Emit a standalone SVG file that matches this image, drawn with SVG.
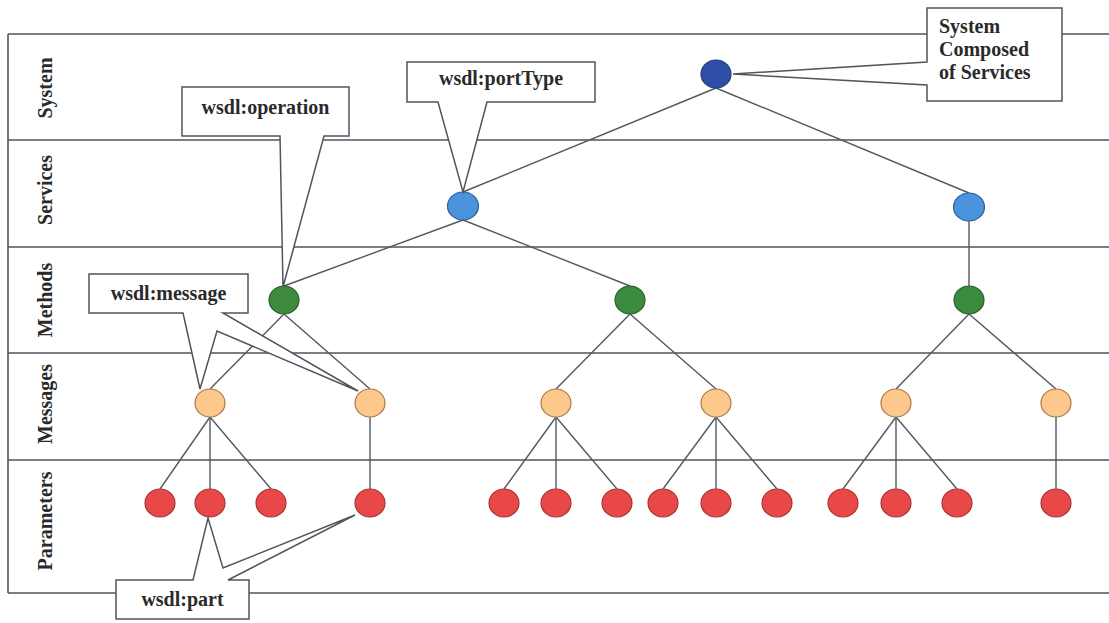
<svg xmlns="http://www.w3.org/2000/svg" width="1109" height="623" viewBox="0 0 1109 623">
  <style>
    .frame { stroke: #50545c; stroke-width: 1.6; fill: none; }
    .edge { stroke: #55585e; stroke-width: 1.4; fill: none; }
    .lane { font-family: "Liberation Serif", "Times New Roman", serif; font-weight: bold; font-size: 20px; fill: #2a2a2a; text-anchor: middle; }
    .callout { fill: #ffffff; stroke: #50545c; stroke-width: 1.5; stroke-linejoin: miter; }
    .ctext { font-family: "Liberation Serif", "Times New Roman", serif; font-weight: bold; font-size: 20px; fill: #2a2a2a; }
    .sys { fill: #2f4fa6; stroke: #233a7a; stroke-width: 1.2; }
    .svc { fill: #4c93de; stroke: #2f5f9a; stroke-width: 1.2; }
    .mth { fill: #3b8a3e; stroke: #2a5f2c; stroke-width: 1.2; }
    .msg { fill: #fdc88c; stroke: #a8784a; stroke-width: 1.2; }
    .prm { fill: #e84848; stroke: #a83434; stroke-width: 1.2; }
  </style>

  <rect width="1109" height="623" fill="#ffffff"/>

  <!-- swim lanes -->
  <g id="lanes">
    <path class="frame" d="M8 34 H1109 M8 140 H1109 M8 247 H1109 M8 353 H1109 M8 460 H1109 M8 593 H1109 M8 34 V593"/>
    <text class="lane" transform="translate(52 88) rotate(-90)">System</text>
    <text class="lane" transform="translate(52 190) rotate(-90)">Services</text>
    <text class="lane" transform="translate(52 300) rotate(-90)">Methods</text>
    <text class="lane" transform="translate(52 404) rotate(-90)">Messages</text>
    <text class="lane" transform="translate(52 521) rotate(-90)">Parameters</text>
  </g>

  <!-- tree connectors: parent bottom to child top -->
  <g id="connectors" class="edge">
    <line x1="716" y1="88" x2="463" y2="192"/>
    <line x1="716" y1="88" x2="969" y2="193"/>
    <line x1="463" y1="220" x2="284" y2="286"/>
    <line x1="463" y1="220" x2="630" y2="286"/>
    <line x1="969" y1="221" x2="969" y2="286"/>
    <line x1="284" y1="314" x2="210" y2="389"/>
    <line x1="284" y1="314" x2="370" y2="389"/>
    <line x1="630" y1="314" x2="556" y2="389"/>
    <line x1="630" y1="314" x2="716" y2="389"/>
    <line x1="969" y1="314" x2="896" y2="389"/>
    <line x1="969" y1="314" x2="1056" y2="389"/>
    <line x1="210" y1="417" x2="160" y2="489"/>
    <line x1="210" y1="417" x2="210" y2="489"/>
    <line x1="210" y1="417" x2="271" y2="489"/>
    <line x1="370" y1="417" x2="370" y2="489"/>
    <line x1="556" y1="417" x2="504" y2="489"/>
    <line x1="556" y1="417" x2="556" y2="489"/>
    <line x1="556" y1="417" x2="617" y2="489"/>
    <line x1="716" y1="417" x2="663" y2="489"/>
    <line x1="716" y1="417" x2="716" y2="489"/>
    <line x1="716" y1="417" x2="777" y2="489"/>
    <line x1="896" y1="417" x2="843" y2="489"/>
    <line x1="896" y1="417" x2="896" y2="489"/>
    <line x1="896" y1="417" x2="957" y2="489"/>
    <line x1="1056" y1="417" x2="1056" y2="489"/>
  </g>

  <!-- system -->
  <g id="system"><ellipse class="sys" cx="716" cy="74" rx="15" ry="14"/></g>

  <!-- services -->
  <g id="service-1"><ellipse class="svc" cx="463" cy="206" rx="15.5" ry="14"/></g>
  <g id="service-2"><ellipse class="svc" cx="969" cy="207" rx="15.5" ry="14"/></g>

  <!-- methods -->
  <g id="method-1"><ellipse class="mth" cx="284" cy="300" rx="15" ry="14"/></g>
  <g id="method-2"><ellipse class="mth" cx="630" cy="300" rx="15" ry="14"/></g>
  <g id="method-3"><ellipse class="mth" cx="969" cy="300" rx="15" ry="14"/></g>

  <!-- messages -->
  <g id="message-1"><ellipse class="msg" cx="210" cy="403" rx="15" ry="14"/></g>
  <g id="message-2"><ellipse class="msg" cx="370" cy="403" rx="15" ry="14"/></g>
  <g id="message-3"><ellipse class="msg" cx="556" cy="403" rx="15" ry="14"/></g>
  <g id="message-4"><ellipse class="msg" cx="716" cy="403" rx="15" ry="14"/></g>
  <g id="message-5"><ellipse class="msg" cx="896" cy="403" rx="15" ry="14"/></g>
  <g id="message-6"><ellipse class="msg" cx="1056" cy="403" rx="15" ry="14"/></g>

  <!-- parameters -->
  <g id="param-1"><ellipse class="prm" cx="160" cy="503" rx="15" ry="14"/></g>
  <g id="param-2"><ellipse class="prm" cx="210" cy="503" rx="15" ry="14"/></g>
  <g id="param-3"><ellipse class="prm" cx="271" cy="503" rx="15" ry="14"/></g>
  <g id="param-4"><ellipse class="prm" cx="370" cy="503" rx="15" ry="14"/></g>
  <g id="param-5"><ellipse class="prm" cx="504" cy="503" rx="15" ry="14"/></g>
  <g id="param-6"><ellipse class="prm" cx="556" cy="503" rx="15" ry="14"/></g>
  <g id="param-7"><ellipse class="prm" cx="617" cy="503" rx="15" ry="14"/></g>
  <g id="param-8"><ellipse class="prm" cx="663" cy="503" rx="15" ry="14"/></g>
  <g id="param-9"><ellipse class="prm" cx="716" cy="503" rx="15" ry="14"/></g>
  <g id="param-10"><ellipse class="prm" cx="777" cy="503" rx="15" ry="14"/></g>
  <g id="param-11"><ellipse class="prm" cx="843" cy="503" rx="15" ry="14"/></g>
  <g id="param-12"><ellipse class="prm" cx="896" cy="503" rx="15" ry="14"/></g>
  <g id="param-13"><ellipse class="prm" cx="957" cy="503" rx="15" ry="14"/></g>
  <g id="param-14"><ellipse class="prm" cx="1056" cy="503" rx="15" ry="14"/></g>

  <!-- callouts -->
  <g id="callout-system">
    <polygon class="callout" points="927,8 1062,8 1062,101 927,101 927,85 733,74 927,62"/>
    <text class="ctext" x="939" y="33">System</text>
    <text class="ctext" x="939" y="56">Composed</text>
    <text class="ctext" x="939" y="79">of Services</text>
  </g>
  <g id="callout-porttype">
    <polygon class="callout" points="407,62 595,62 595,102 487,102 463,192 438,102 407,102"/>
    <text class="ctext" x="501" y="85" text-anchor="middle">wsdl:portType</text>
  </g>
  <g id="callout-operation">
    <polygon class="callout" points="182,87 349,87 349,136 324,136 283,287 280,136 182,136"/>
    <text class="ctext" x="265.5" y="114" text-anchor="middle">wsdl:operation</text>
  </g>
  <g id="callout-message">
    <polygon class="callout" points="89,274 248,274 248,313 223,313 358,391 217,331 200,389 183,313 89,313"/>
    <text class="ctext" x="168.5" y="300" text-anchor="middle">wsdl:message</text>
  </g>
  <g id="callout-part">
    <polygon class="callout" points="116,580 193,580 208,518 223,568 355,515 228,580 249,580 249,619 116,619"/>
    <text class="ctext" x="182.5" y="606" text-anchor="middle">wsdl:part</text>
  </g>
</svg>
